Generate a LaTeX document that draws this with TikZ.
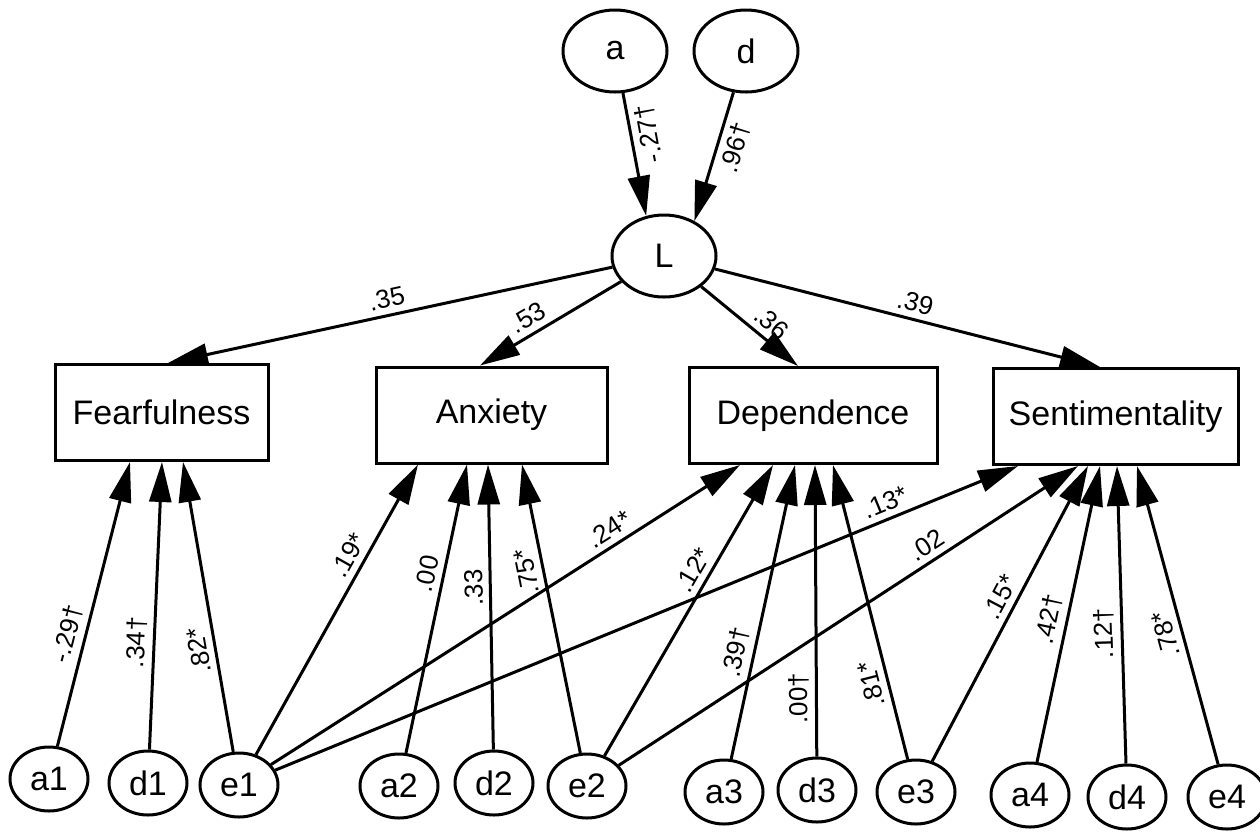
\documentclass[tikz,border=0pt]{standalone}
\usepackage{fontspec}
\setmainfont{Liberation Sans}
\usetikzlibrary{arrows.meta, shapes.geometric}

\begin{document}
\begin{tikzpicture}[x=0.5pt, y=-0.5pt, line width=1.5pt, >={Triangle[length=20pt, width=11pt]},
  big/.style={draw, ellipse, minimum width=52pt, minimum height=41pt, inner sep=0pt, font=\fontsize{17}{20}\selectfont},
  small/.style={draw, ellipse, minimum width=39pt, minimum height=32pt, inner sep=0pt, font=\fontsize{17}{20}\selectfont},
  facet/.style={draw, rectangle, minimum height=48pt, inner sep=0pt, font=\fontsize{17}{20}\selectfont},
  lbl/.style={font=\fontsize{13}{15}\selectfont, inner sep=3pt, sloped, above},
  uplbl/.style={lbl, allow upside down}]

  \useasboundingbox (0,0) rectangle (1260,832);

  % higher order factor and its sources
  \node[big] (a) at (615,51) {a};
  \node[big] (d) at (746,51) {d};
  \node[big] (L) at (664,256) {L};

  % facets
  \node[facet, minimum width=106.5pt] (fear) at (161.5,412.5) {Fearfulness};
  \node[facet, minimum width=115.5pt] (anx)  at (491.5,415)   {Anxiety};
  \node[facet, minimum width=124pt]   (dep)  at (813,415.5)   {Dependence};
  \node[facet, minimum width=122.5pt] (sent) at (1115.5,416.5) {Sentimentality};

  % item level sources
  \foreach \n/\x/\y in {a1/49/779, d1/148/783, e1/239/785, a2/399/786, d2/494/783, e2/587/786,
                        a3/724/792, d3/817/790, e3/916/792, a4/1030/795, d4/1127/797, e4/1227/797}
    \node[small] (\n) at (\x,\y) {\n};

  % into L
  \draw[->] (a) -- node[uplbl, rotate=180, below, pos=0.36] {-.27†} (L.114);
  \draw[->] (d) -- node[uplbl, rotate=180, below, pos=0.39] {.96†} (L.49);

  % L to the facets
  \draw[->] (L) -- node[lbl, pos=0.5]  {.35} ([xshift=3.25pt]fear.north);
  \draw[->] (L) -- node[lbl, pos=0.6]  {.53} ([xshift=-5.75pt]anx.north);
  \draw[->] (L) -- node[lbl, pos=0.62] {.36} ([xshift=-7.5pt]dep.north);
  \draw[->] (L) -- node[lbl, pos=0.51] {.39} ([xshift=-7.75pt]sent.north);

  % Fearfulness
  \draw[->] (a1) -- node[uplbl, pos=0.38] {-.29†} ([xshift=-15.75pt]fear.south);
  \draw[->] (d1) -- node[uplbl, pos=0.37] {.34†} ([xshift=0.25pt]fear.south);
  \draw[->] (e1) -- node[uplbl, pos=0.36] {.82*} ([xshift=10.75pt]fear.south);

  % Anxiety
  \draw[->] (e1) -- node[uplbl, pos=0.66] {.19*} ([xshift=-36.75pt]anx.south);
  \draw[->] (a2) -- node[uplbl, pos=0.61] {.00} ([xshift=-12.25pt]anx.south);
  \draw[->] (d2) -- node[uplbl, pos=0.57] {.33} ([xshift=-1.75pt]anx.south);
  \draw[->] (e2) -- node[uplbl, pos=0.64] {.75*} ([xshift=15.25pt]anx.south);

  % Dependence
  \draw[->] (e1) -- node[uplbl, pos=0.74] {.24*} ([xshift=-36.5pt]dep.south);
  \draw[->] (e2) -- node[uplbl, pos=0.61] {.12*} ([xshift=-20pt]dep.south);
  \draw[->] (a3) -- node[uplbl, pos=0.35] {.39†} ([xshift=-9pt]dep.south);
  \draw[->] (d3) -- node[uplbl, pos=0.2]  {.00†} ([xshift=1pt]dep.south);
  \draw[->] (e3) -- node[uplbl, pos=0.27] {.81*} ([xshift=10pt]dep.south);

  % Sentimentality
  \draw[->] (e1) -- node[uplbl, pos=0.83] {.13*} ([xshift=-48.75pt]sent.south);
  \draw[->] (e2) -- node[uplbl, pos=0.69] {.02} ([xshift=-18.75pt]sent.south);
  \draw[->] (e3) -- node[uplbl, pos=0.53] {.15*} ([xshift=-13.75pt]sent.south);
  \draw[->] (a4) -- node[uplbl, pos=0.47] {.42†} ([xshift=-7.75pt]sent.south);
  \draw[->] (d4) -- node[uplbl, pos=0.44] {.12†} ([xshift=0.75pt]sent.south);
  \draw[->] (e4) -- node[uplbl, pos=0.45] {.78*} ([xshift=10.75pt]sent.south);
\end{tikzpicture}
\end{document}
